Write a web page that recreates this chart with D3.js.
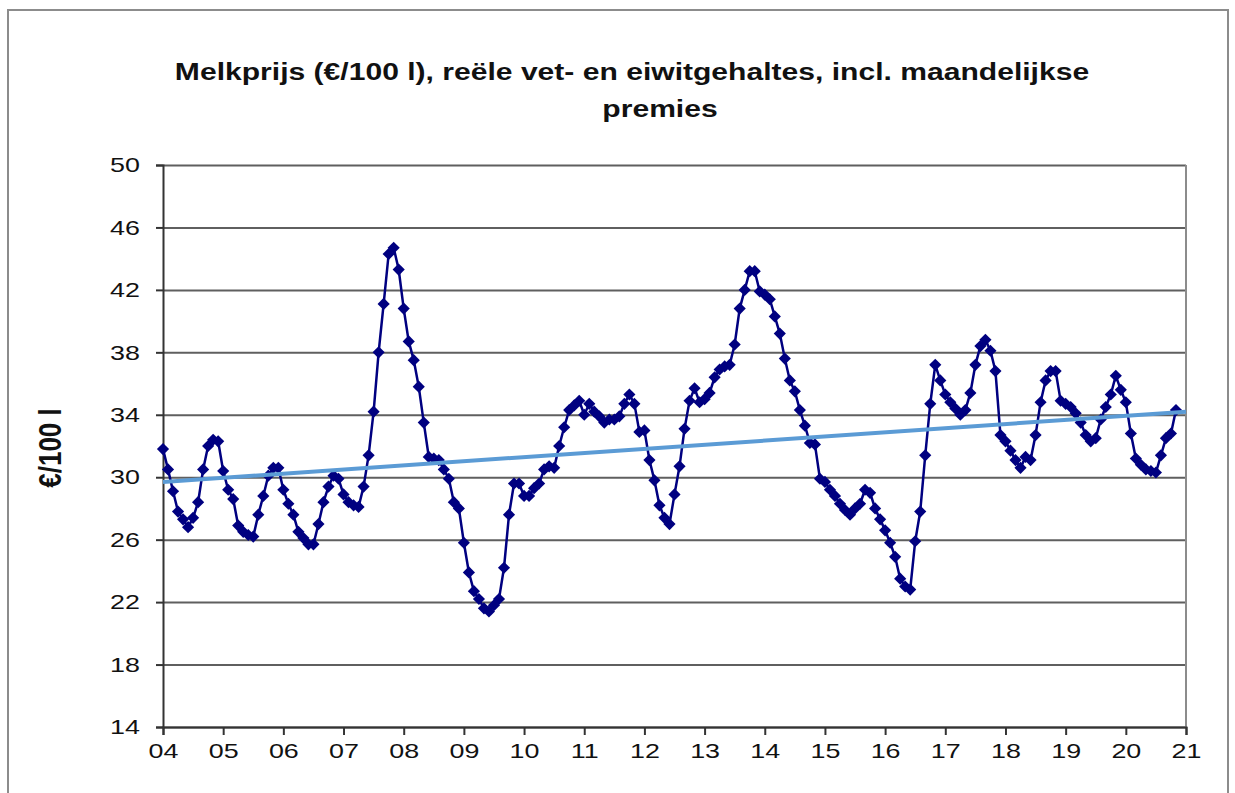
<!DOCTYPE html>
<html>
<head>
<meta charset="utf-8">
<script src="https://cdn.jsdelivr.net/npm/d3@7"></script>
<style>
  body { margin: 0; background: #fff; }
  text { font-family: Arial, "Liberation Sans", sans-serif; fill: #111; }
</style>
</head>
<body>
<script>
// melkprijs per maand, jan 2004 - nov 2020 (€/100 l)
const melkprijs = [
  31.8, 30.5, 29.1, 27.8, 27.3, 26.8, 27.4, 28.4, 30.5, 32.0, 32.4, 32.3, // 2004
  30.4, 29.2, 28.6, 26.9, 26.5, 26.3, 26.2, 27.6, 28.8, 30.1, 30.6, 30.6, // 2005
  29.2, 28.3, 27.6, 26.5, 26.1, 25.7, 25.7, 27.0, 28.4, 29.4, 30.1, 29.9, // 2006
  28.9, 28.4, 28.2, 28.1, 29.4, 31.4, 34.2, 38.0, 41.1, 44.3, 44.7, 43.3, // 2007
  40.8, 38.7, 37.5, 35.8, 33.5, 31.3, 31.2, 31.1, 30.5, 29.9, 28.4, 28.0, // 2008
  25.8, 23.9, 22.7, 22.2, 21.6, 21.4, 21.8, 22.2, 24.2, 27.6, 29.6, 29.6, // 2009
  28.8, 28.8, 29.3, 29.6, 30.5, 30.7, 30.6, 32.0, 33.2, 34.3, 34.6, 34.9, // 2010
  34.0, 34.7, 34.2, 33.9, 33.5, 33.7, 33.7, 33.9, 34.7, 35.3, 34.7, 32.9, // 2011
  33.0, 31.1, 29.8, 28.2, 27.4, 27.0, 28.9, 30.7, 33.1, 34.9, 35.7, 34.8, // 2012
  35.0, 35.4, 36.4, 36.9, 37.1, 37.2, 38.5, 40.8, 42.0, 43.2, 43.2, 41.9, // 2013
  41.7, 41.4, 40.3, 39.2, 37.6, 36.2, 35.5, 34.3, 33.3, 32.2, 32.1, 29.9, // 2014
  29.7, 29.2, 28.8, 28.3, 27.9, 27.6, 28.0, 28.3, 29.2, 29.0, 28.0, 27.3, // 2015
  26.6, 25.8, 24.9, 23.5, 23.0, 22.8, 25.9, 27.8, 31.4, 34.7, 37.2, 36.2, // 2016
  35.3, 34.8, 34.4, 34.0, 34.3, 35.4, 37.2, 38.4, 38.8, 38.1, 36.8, 32.7, // 2017
  32.3, 31.7, 31.1, 30.6, 31.3, 31.1, 32.7, 34.8, 36.2, 36.8, 36.8, 34.9, // 2018
  34.7, 34.5, 34.1, 33.5, 32.7, 32.3, 32.5, 33.7, 34.5, 35.3, 36.5, 35.6, // 2019
  34.8, 32.8, 31.2, 30.8, 30.5, 30.4, 30.3, 31.4, 32.5, 32.8, 34.3        // 2020
];

// lineaire trend: waarde bij begin (04) en eind (21) van de as
const trendWaarden = [29.7, 34.2];

const jaarLabels = ["04", "05", "06", "07", "08", "09", "10", "11", "12",
  "13", "14", "15", "16", "17", "18", "19", "20", "21"];
const yTicks = [14, 18, 22, 26, 30, 34, 38, 42, 46, 50];

const titel = ["Melkprijs (€/100 l), reële vet- en eiwitgehaltes, incl. maandelijkse", "premies"];

const W = 1235, H = 793;
const plot = { left: 163, right: 1186, top: 165, bottom: 727 };
const nMaanden = (jaarLabels.length - 1) * 12;
const rek = 1.28; // de tekst in het origineel is breed uitgerekt

const svg = d3.select("body").append("svg")
    .attr("width", W)
    .attr("height", H);

// buitenrand
svg.append("rect")
    .attr("x", 8).attr("y", 10)
    .attr("width", 1220).attr("height", 800)
    .attr("fill", "#fff")
    .attr("stroke", "#8c8c8c")
    .attr("stroke-width", 2);

const x = d3.scaleLinear()
    .domain([0, nMaanden])
    .range([plot.left, plot.right]);

const y = d3.scaleLinear()
    .domain([d3.min(yTicks), d3.max(yTicks)])
    .range([plot.bottom, plot.top]);

// titel
svg.append("text")
    .attr("transform", "translate(632,80) scale(" + rek + ",1)")
    .attr("text-anchor", "middle")
    .attr("font-size", 23.5).attr("font-weight", "bold")
    .attr("fill", "#000")
    .text(titel[0]);
svg.append("text")
    .attr("transform", "translate(660,117) scale(" + rek + ",1)")
    .attr("text-anchor", "middle")
    .attr("font-size", 23.5).attr("font-weight", "bold")
    .attr("fill", "#000")
    .text(titel[1]);

// horizontale rasterlijnen
svg.append("g")
    .attr("class", "grid")
    .attr("transform", "translate(" + plot.left + ",0)")
    .call(d3.axisLeft(y).tickValues(yTicks).tickSize(-(plot.right - plot.left)).tickFormat(""))
    .call(g => g.select(".domain").remove())
    .selectAll("line")
    .attr("stroke", "#5f5f5f")
    .attr("stroke-width", 2);

// rechterrand plotgebied
svg.append("line")
    .attr("x1", plot.right).attr("x2", plot.right)
    .attr("y1", plot.top).attr("y2", plot.bottom)
    .attr("stroke", "#8c8c8c")
    .attr("stroke-width", 2);

// y-as
const yAxis = svg.append("g")
    .attr("transform", "translate(" + plot.left + ",0)")
    .call(d3.axisLeft(y).tickValues(yTicks).tickSize(7).tickPadding(16));
yAxis.select(".domain").attr("stroke", "#333").attr("stroke-width", 2);
yAxis.selectAll("line").attr("stroke", "#333").attr("stroke-width", 2);
yAxis.selectAll("text")
    .attr("font-size", 21)
    .attr("font-family", "Arial, 'Liberation Sans', sans-serif")
    .attr("fill", "#111")
    .attr("x", 0)
    .attr("transform", "translate(-23,0) scale(" + rek + ",1)");

// x-as
const xAxis = svg.append("g")
    .attr("transform", "translate(0," + plot.bottom + ")")
    .call(d3.axisBottom(x)
        .tickValues(d3.range(0, nMaanden + 1, 12))
        .tickFormat((d, i) => jaarLabels[i])
        .tickSize(8).tickPadding(8));
xAxis.select(".domain").attr("stroke", "#333").attr("stroke-width", 2);
xAxis.selectAll("line").attr("stroke", "#333").attr("stroke-width", 2);
xAxis.selectAll("text")
    .attr("font-size", 21)
    .attr("font-family", "Arial, 'Liberation Sans', sans-serif")
    .attr("fill", "#111")
    .attr("transform", "scale(" + rek + ",1)");

// y-as titel
svg.append("text")
    .attr("transform", "translate(61,448) scale(1.2,1) rotate(-90)")
    .attr("text-anchor", "middle")
    .attr("font-size", 26).attr("font-weight", "bold")
    .attr("fill", "#000")
    .text("€/100 l");

// reeks
const line = d3.line()
    .x((d, i) => x(i))
    .y(d => y(d));

svg.append("path")
    .datum(melkprijs)
    .attr("fill", "none")
    .attr("stroke", "#000080")
    .attr("stroke-width", 2.5)
    .attr("d", line);

svg.append("g")
    .selectAll("path")
    .data(melkprijs)
    .join("path")
    .attr("d", d3.symbol().type(d3.symbolSquare).size(74))
    .attr("transform", (d, i) => "translate(" + x(i) + "," + y(d) + ") rotate(45)")
    .attr("fill", "#000080");

// trendlijn
svg.append("line")
    .attr("x1", x(0)).attr("y1", y(trendWaarden[0]))
    .attr("x2", x(nMaanden)).attr("y2", y(trendWaarden[1]))
    .attr("stroke", "#5b9bd5")
    .attr("stroke-width", 4);
</script>
</body>
</html>
